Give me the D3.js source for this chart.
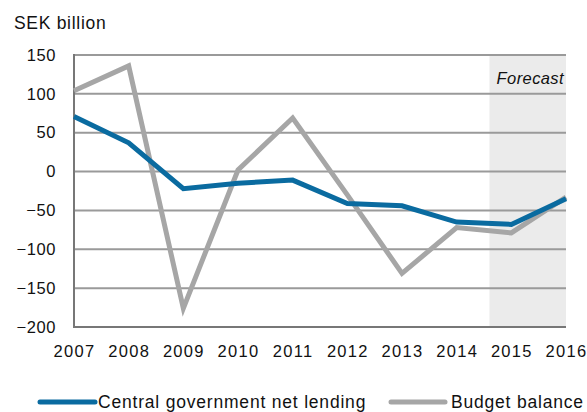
<!DOCTYPE html>
<html><head><meta charset="utf-8">
<script src="https://cdn.jsdelivr.net/npm/d3@7"></script>
<style>
body{margin:0;background:#fff;}
text{font-family:"Liberation Sans",Arial,Helvetica,sans-serif;fill:#111;}
</style></head>
<body>
<svg id="c" width="587" height="412"></svg>
<script>
const years = ["2007","2008","2009","2010","2011","2012","2013","2014","2015","2016"];
const netLending = [71, 37, -22, -15, -11, -41, -44, -65, -68, -35];
const budgetBalance = [104, 136, -176, 2, 69, -30, -131, -72, -79, -33];
const yTicks = [150, 100, 50, 0, -50, -100, -150, -200];
const forecastStart = "2015";
const seriesNames = ["Central government net lending", "Budget balance"];

const svg = d3.select("#c");
const L = 74, R = 566, T = 55, B = 327;
const x = d3.scalePoint().domain(years).range([L, R]);
const y = d3.scaleLinear().domain([-200, 150]).range([B, T]);

// forecast shading
const step = x.step();
svg.append("rect")
  .attr("x", x(forecastStart) - step * 0.4)
  .attr("y", T)
  .attr("width", R - (x(forecastStart) - step * 0.4))
  .attr("height", B - T)
  .attr("fill", "#ebebeb");

// gridlines
svg.append("g").selectAll("line").data(yTicks.filter(d => d !== -200)).join("line")
  .attr("x1", L).attr("x2", R)
  .attr("y1", d => y(d)).attr("y2", d => y(d))
  .attr("stroke", "#9a9a9a").attr("stroke-width", 2);

// y axis
const yAxis = d3.axisLeft(y).tickValues(yTicks).tickSize(0).tickPadding(18);
const gy = svg.append("g").attr("transform", `translate(${L},0)`).call(yAxis);
gy.select(".domain").remove();
gy.selectAll("text").attr("font-size", 16.5).attr("letter-spacing", 0.6)
  .style("font-family", "'Liberation Sans',Arial,sans-serif").attr("fill", "#111");

// x axis
const xAxis = d3.axisBottom(x).tickSize(0).tickPadding(18);
const gx = svg.append("g").attr("transform", `translate(0,${B})`).call(xAxis);
gx.select(".domain").remove();
gx.selectAll("text").attr("font-size", 16.5).attr("letter-spacing", 1.3)
  .style("font-family", "'Liberation Sans',Arial,sans-serif").attr("fill", "#111");

// axis lines
svg.append("line").attr("x1", L).attr("x2", L).attr("y1", T - 1).attr("y2", B + 1)
  .attr("stroke", "#777").attr("stroke-width", 2);
svg.append("line").attr("x1", L - 1).attr("x2", R).attr("y1", B).attr("y2", B)
  .attr("stroke", "#777").attr("stroke-width", 2);

// lines
const line = d3.line().x((d, i) => x(years[i])).y(d => y(d));
svg.append("path").datum(budgetBalance).attr("d", line)
  .attr("fill", "none").attr("stroke", "#a6a6a6").attr("stroke-width", 5)
  .attr("stroke-linejoin", "miter");
svg.append("path").datum(netLending).attr("d", line)
  .attr("fill", "none").attr("stroke", "#0a6ba0").attr("stroke-width", 5)
  .attr("stroke-linejoin", "miter");

// labels
svg.append("text").attr("x", 14).attr("y", 29).attr("font-size", 17.5).attr("letter-spacing", 0.7)
  .text("SEK billion");
svg.append("text").attr("x", R - 2).attr("y", 84).attr("font-size", 16.5)
  .attr("text-anchor", "end").attr("font-style", "italic").attr("letter-spacing", 0.4)
  .text("Forecast");

// legend
const leg = [
  {name: seriesNames[0], color: "#0a6ba0", x1: 40, x2: 95, tx: 98},
  {name: seriesNames[1], color: "#a6a6a6", x1: 391, x2: 445, tx: 451}
];
leg.forEach(l => {
  svg.append("line").attr("x1", l.x1).attr("x2", l.x2).attr("y1", 402).attr("y2", 402)
    .attr("stroke", l.color).attr("stroke-width", 5).attr("stroke-linecap", "round");
  svg.append("text").attr("x", l.tx).attr("y", 408).attr("font-size", 17.5).attr("letter-spacing", 0.8)
    .text(l.name);
});
</script>
</body></html>
